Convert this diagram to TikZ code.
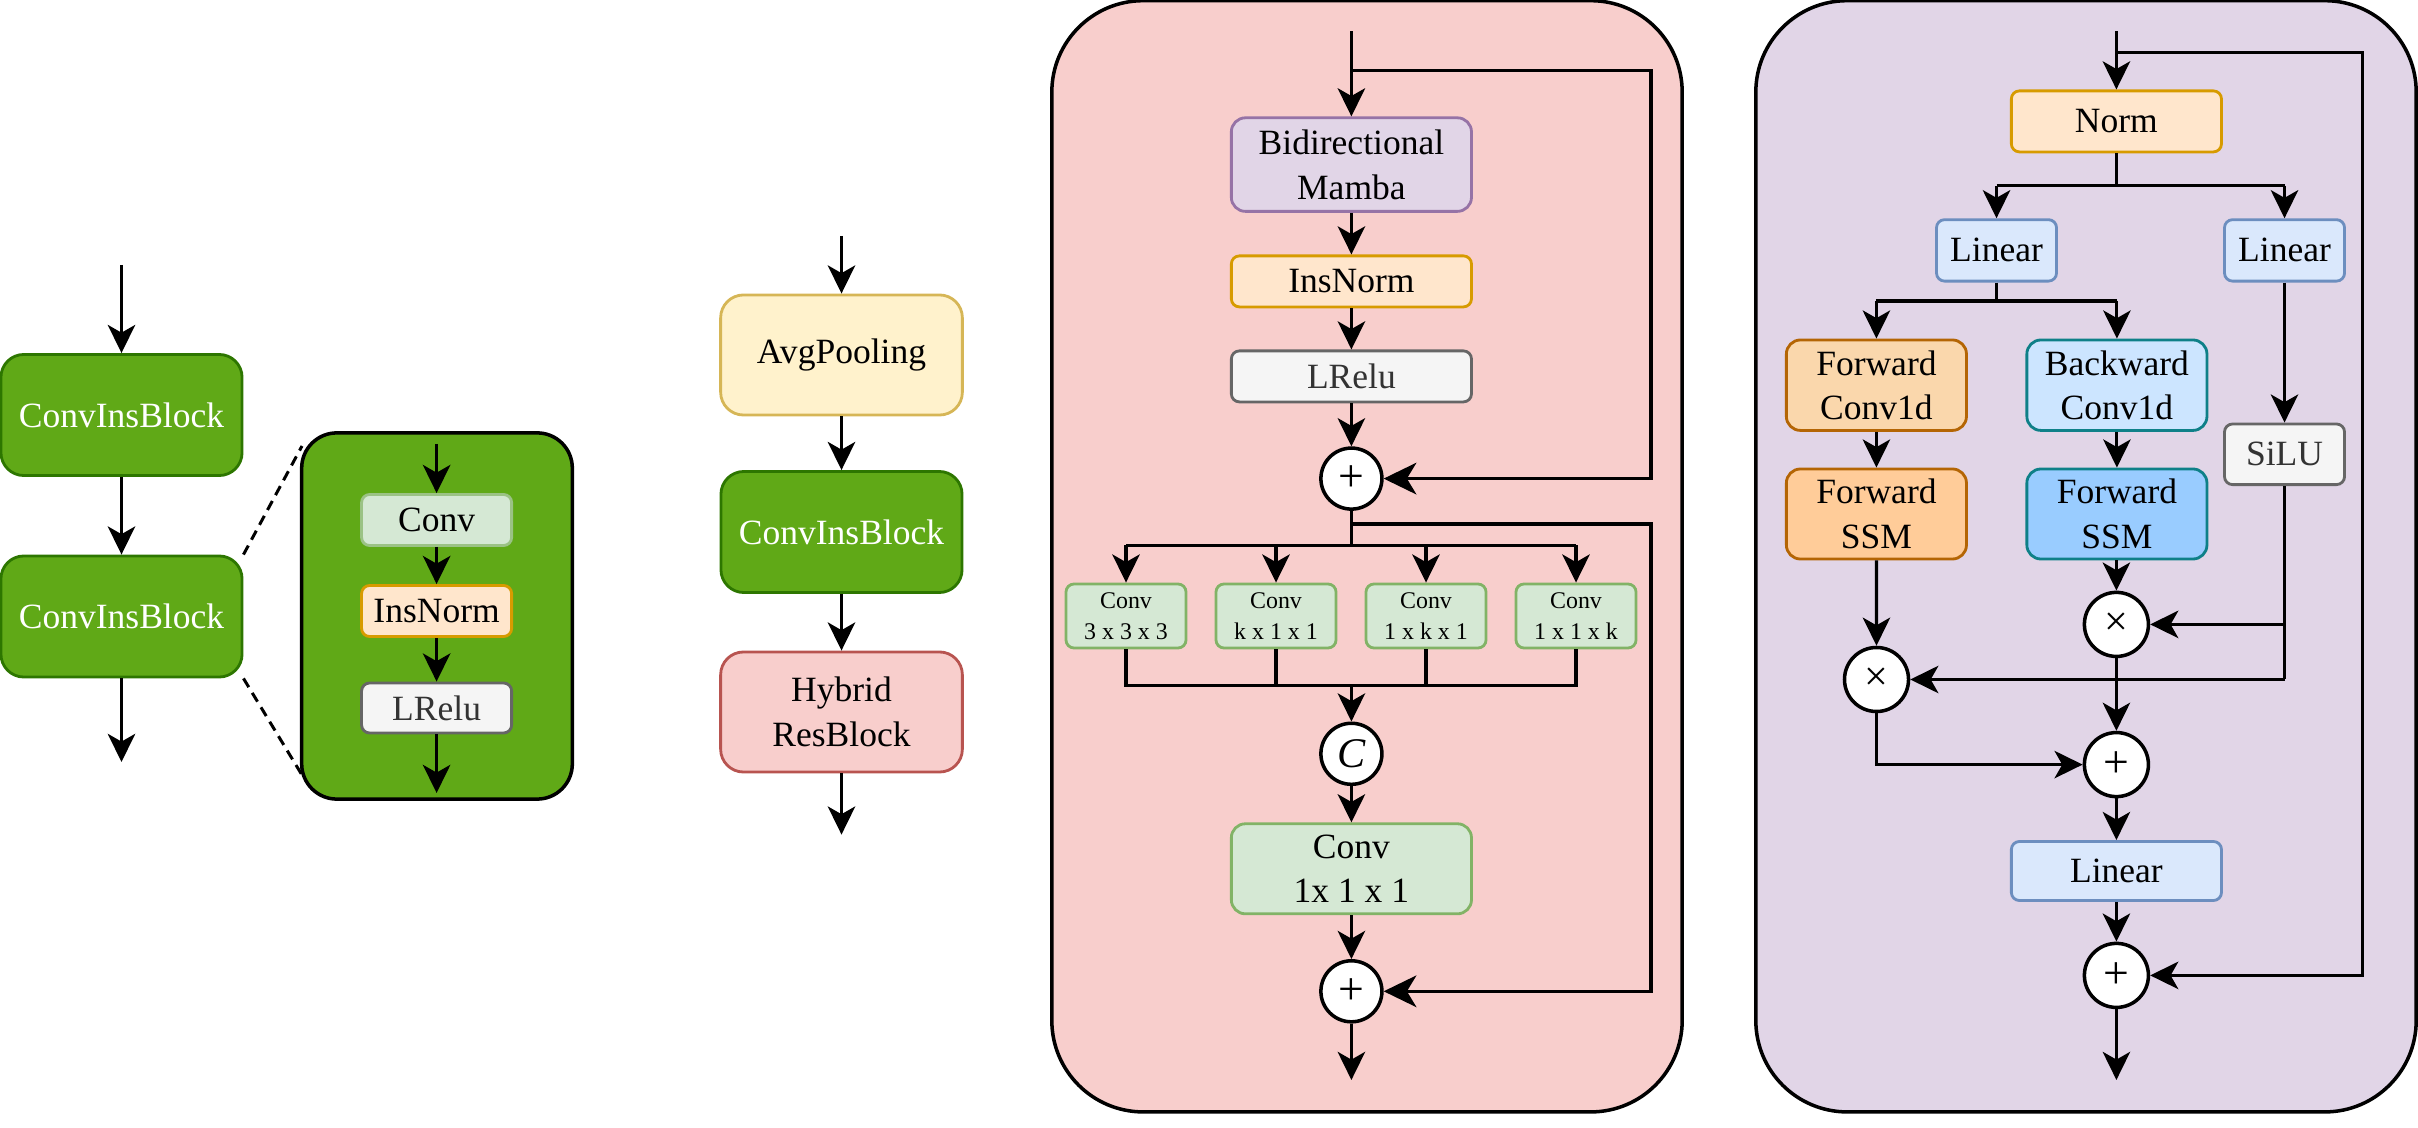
\documentclass[tikz,border=0pt]{standalone}
\usepackage{fontspec}
\setmainfont{Liberation Serif}
\usetikzlibrary{arrows.meta}
\definecolor{cgreen}{HTML}{60A917}
\definecolor{cgreenD}{HTML}{2D7600}
\definecolor{lgreen}{HTML}{D5E8D4}
\definecolor{lgreenD}{HTML}{82B366}
\definecolor{lorange}{HTML}{FFE6CC}
\definecolor{lorangeD}{HTML}{D79B00}
\definecolor{lgray}{HTML}{F5F5F5}
\definecolor{lgrayD}{HTML}{666666}
\definecolor{tgray}{HTML}{333333}
\definecolor{lyellow}{HTML}{FFF2CC}
\definecolor{lyellowD}{HTML}{D6B656}
\definecolor{lred}{HTML}{F8CECC}
\definecolor{lredD}{HTML}{B85450}
\definecolor{lpurple}{HTML}{E1D5E7}
\definecolor{lpurpleD}{HTML}{9673A6}
\definecolor{lblue}{HTML}{DAE8FC}
\definecolor{lblueD}{HTML}{6C8EBF}
\definecolor{fconv}{HTML}{FAD7AC}
\definecolor{fssm}{HTML}{FFCC99}
\definecolor{forangeD}{HTML}{B46504}
\definecolor{bconv}{HTML}{CCE5FF}
\definecolor{bssm}{HTML}{99CCFF}
\definecolor{tealD}{HTML}{0E8088}
\begin{document}
\begin{tikzpicture}[x=0.01cm,y=-0.01cm,
  box/.style={draw, line width=0.8pt, rounded corners=2.3pt, align=center, inner sep=0pt,
    font=\fontsize{10.1}{12.7}\selectfont},
  gbig/.style={box, fill=cgreen, draw=cgreenD, text=white, rounded corners=6.5pt,
    minimum width=2.41cm, minimum height=1.21cm},
  sconv/.style={box, fill=lgreen, draw=lgreenD, minimum width=1.2cm, minimum height=0.64cm,
    font=\fontsize{6.8}{8.7}\selectfont},
  panel/.style={draw=black, line width=1pt},
  opc/.style={circle, draw, fill=white, line width=1pt, inner sep=0pt},
  arr/.style={-{Stealth[length=8pt,width=7.8pt,inset=2.2pt]}, line width=0.88pt},
  barr/.style={-{Stealth[length=9.3pt,width=9pt,inset=2.7pt]}, line width=0.88pt},
  ln/.style={line width=0.88pt},
  dsh/.style={line width=0.85pt, dash pattern=on 2.9pt off 1.9pt}
]
\useasboundingbox (0,0) rectangle (2418,1128);

% ---------------- Panel 1 ----------------
\node[gbig] (b1) at (121.5,415) {ConvInsBlock};
\node[gbig] (b2) at (121.5,616.5) {ConvInsBlock};
\coordinate (in1) at (121.5,265);
\coordinate (out1) at (121.5,762);
\draw[arr] (in1) -- (b1);
\draw[arr] (b1) -- (b2);
\draw[arr] (b2) -- (out1);

\node[panel, fill=cgreen, rounded corners=10pt, minimum width=2.705cm, minimum height=3.66cm] (zp) at (437,616) {};
\node[box, fill=lgreen, draw=lgreenD!80, minimum width=1.5cm, minimum height=0.51cm] (zc) at (436.6,520) {Conv};
\node[box, fill=lorange, draw=lorangeD, minimum width=1.5cm, minimum height=0.51cm] (zi) at (436.6,611) {InsNorm};
\node[box, fill=lgray, draw=lgrayD, text=tgray, minimum width=1.5cm, minimum height=0.5cm] (zl) at (436.6,708) {LRelu};
\coordinate (zin) at (436.6,444);
\coordinate (zout) at (436.6,793);
\draw[arr] (zin) -- (zc);
\draw[arr] (zc) -- (zi);
\draw[arr] (zi) -- (zl);
\draw[arr] (zl) -- (zout);
\coordinate (za) at (302,446);
\coordinate (zb) at (302,775);
\draw[dsh] (b2.north east) -- (za);
\draw[dsh] (b2.south east) -- (zb);

% ---------------- Panel 2 ----------------
\node[box, fill=lyellow, draw=lyellowD, rounded corners=6.5pt, minimum width=2.416cm, minimum height=1.2cm] (avg) at (841.5,355) {AvgPooling};
\node[gbig] (cb) at (841.5,532) {ConvInsBlock};
\node[box, fill=lred, draw=lredD, rounded corners=6.5pt, minimum width=2.416cm, minimum height=1.2cm] (hyb) at (841.5,712) {Hybrid\\ResBlock};
\coordinate (in2) at (841.5,236);
\coordinate (out2) at (841.5,834.6);
\draw[arr] (in2) -- (avg);
\draw[arr] (avg) -- (cb);
\draw[arr] (cb) -- (hyb);
\draw[arr] (hyb) -- (out2);

% ---------------- Panel 3 ----------------
\node[panel, fill=lred, rounded corners=26pt, minimum width=6.3cm, minimum height=11.106cm] (P3) at (1367,556.3) {};
\node[box, fill=lpurple, draw=lpurpleD, rounded corners=4pt, minimum width=2.4cm, minimum height=0.935cm] (mamba) at (1351.4,164.6) {Bidirectional\\Mamba};
\node[box, fill=lorange, draw=lorangeD, minimum width=2.4cm, minimum height=0.51cm] (ins3) at (1351.4,281.4) {InsNorm};
\node[box, fill=lgray, draw=lgrayD, text=tgray, minimum width=2.4cm, minimum height=0.51cm] (lr3) at (1351.4,376.4) {LRelu};
\node[opc, minimum size=0.61cm, font=\fontsize{13}{13}\selectfont] (p1) at (1351.4,478.6) {+};
\node[sconv] (c1) at (1126,616) {Conv\\3 x 3 x 3};
\node[sconv] (c2) at (1276,616) {Conv\\k x 1 x 1};
\node[sconv] (c3) at (1426,616) {Conv\\1 x k x 1};
\node[sconv] (c4) at (1576,616) {Conv\\1 x 1 x k};
\node[opc, minimum size=0.61cm, font=\fontsize{12}{12}\selectfont\itshape] (cc) at (1351.4,753.8) {C};
\node[box, fill=lgreen, draw=lgreenD, rounded corners=4pt, minimum width=2.4cm, minimum height=0.9cm] (conv3) at (1351.4,868.8) {Conv\\1x 1 x 1};
\node[opc, minimum size=0.61cm, font=\fontsize{13}{13}\selectfont] (p2) at (1351.4,991.3) {+};

\coordinate (in3) at (1351.4,31.4);
\coordinate (out3) at (1351.4,1080);
\coordinate (sk1) at (1351.4,70.4);
\coordinate (sk2) at (1351.4,524);
\coordinate (br3) at (1351.4,545.5);
\coordinate (mg3) at (1351.4,685.4);
\coordinate (r3) at (1651,0);
\draw[arr] (in3) -- (mamba);
\draw[barr] (sk1) -- (sk1 -| r3) -- (r3 |- p1) -- (p1.east);
\draw[arr] (mamba) -- (ins3);
\draw[arr] (ins3) -- (lr3);
\draw[arr] (lr3) -- (p1);
\draw[ln] (p1.south) -- (br3);
\draw[barr] (sk2) -- (sk2 -| r3) -- (r3 |- p2) -- (p2.east);
\draw[ln] (c1 |- br3) -- (c4 |- br3);
\draw[arr] (c1 |- br3) -- (c1);
\draw[arr] (c2 |- br3) -- (c2);
\draw[arr] (c3 |- br3) -- (c3);
\draw[arr] (c4 |- br3) -- (c4);
\draw[ln] (c1.south) -- (c1 |- mg3) -- (c4 |- mg3) -- (c4.south);
\draw[ln] (c2.south) -- (c2 |- mg3);
\draw[ln] (c3.south) -- (c3 |- mg3);
\draw[arr] (mg3) -- (cc);
\draw[arr] (cc) -- (conv3);
\draw[arr] (conv3) -- (p2);
\draw[arr] (p2) -- (out3);

% ---------------- Panel 4 ----------------
\node[panel, fill=lpurple, rounded corners=26pt, minimum width=6.6cm, minimum height=11.106cm] (P4) at (2086,556.3) {};
\node[box, fill=lorange, draw=lorangeD, minimum width=2.1cm, minimum height=0.61cm] (norm) at (2116.4,121.4) {Norm};
\node[box, fill=lblue, draw=lblueD, minimum width=1.2cm, minimum height=0.614cm] (linL) at (1996.5,250.4) {Linear};
\node[box, fill=lblue, draw=lblueD, minimum width=1.2cm, minimum height=0.614cm] (linR) at (2284.5,250.4) {Linear};
\node[box, fill=fconv, draw=forangeD, rounded corners=4pt, minimum width=1.8cm, minimum height=0.904cm] (fc) at (1876.4,385.2) {Forward\\Conv1d};
\node[box, fill=bconv, draw=tealD, rounded corners=4pt, minimum width=1.8cm, minimum height=0.904cm] (bc) at (2116.9,385.2) {Backward\\Conv1d};
\node[box, fill=fssm, draw=forangeD, rounded corners=4pt, minimum width=1.8cm, minimum height=0.9cm] (fs) at (1876.4,514) {Forward\\SSM};
\node[box, fill=bssm, draw=tealD, rounded corners=4pt, minimum width=1.8cm, minimum height=0.9cm] (bs) at (2116.9,514) {Forward\\SSM};
\node[box, fill=lgray, draw=lgrayD, text=tgray, minimum width=1.2cm, minimum height=0.606cm] (silu) at (2284.5,454.3) {SiLU};
\node[opc, minimum size=0.64cm, font=\fontsize{12}{12}\selectfont] (xR) at (2116.4,624.4) {×};
\node[opc, minimum size=0.64cm, font=\fontsize{12}{12}\selectfont] (xL) at (1876.5,679.5) {×};
\node[opc, minimum size=0.64cm, font=\fontsize{13}{13}\selectfont] (pp) at (2116.4,764.6) {+};
\node[box, fill=lblue, draw=lblueD, minimum width=2.1cm, minimum height=0.59cm] (lin4) at (2116.4,871) {Linear};
\node[opc, minimum size=0.64cm, font=\fontsize{13}{13}\selectfont] (pf) at (2116.4,975.4) {+};

\coordinate (in4) at (2116.4,31.4);
\coordinate (out4) at (2116.4,1080);
\coordinate (sk4) at (2116.4,52.9);
\coordinate (r4) at (2362.3,0);
\coordinate (br4) at (2116.4,185.7);
\coordinate (br5) at (1996.5,301);
\draw[arr] (in4) -- (norm);
\draw[arr] (sk4) -- (sk4 -| r4) -- (r4 |- pf) -- (pf.east);
\draw[ln] (norm.south) -- (br4);
\draw[ln] (linL |- br4) -- (linR |- br4);
\draw[arr] (linL |- br4) -- (linL);
\draw[arr] (linR |- br4) -- (linR);
\draw[ln] (linL.south) -- (br5);
\draw[ln] (fc |- br5) -- (bc |- br5);
\draw[arr] (fc |- br5) -- (fc);
\draw[arr] (bc |- br5) -- (bc);
\draw[arr] (fc) -- (fs);
\draw[arr] (bc) -- (bs);
\draw[arr] (linR) -- (silu);
\draw[ln] (silu.south) -- (silu |- xL);
\draw[arr] (silu |- xR) -- (xR.east);
\draw[arr] (silu |- xL) -- (xL.east);
\draw[arr] (fs) -- (xL);
\draw[arr] (bs.south -| xR) -- (xR);
\draw[arr] (xR) -- (pp);
\draw[arr] (xL.south) -- (xL |- pp) -- (pp.west);
\draw[arr] (pp) -- (lin4);
\draw[arr] (lin4) -- (pf);
\draw[arr] (pf) -- (out4);
\end{tikzpicture}
\end{document}
